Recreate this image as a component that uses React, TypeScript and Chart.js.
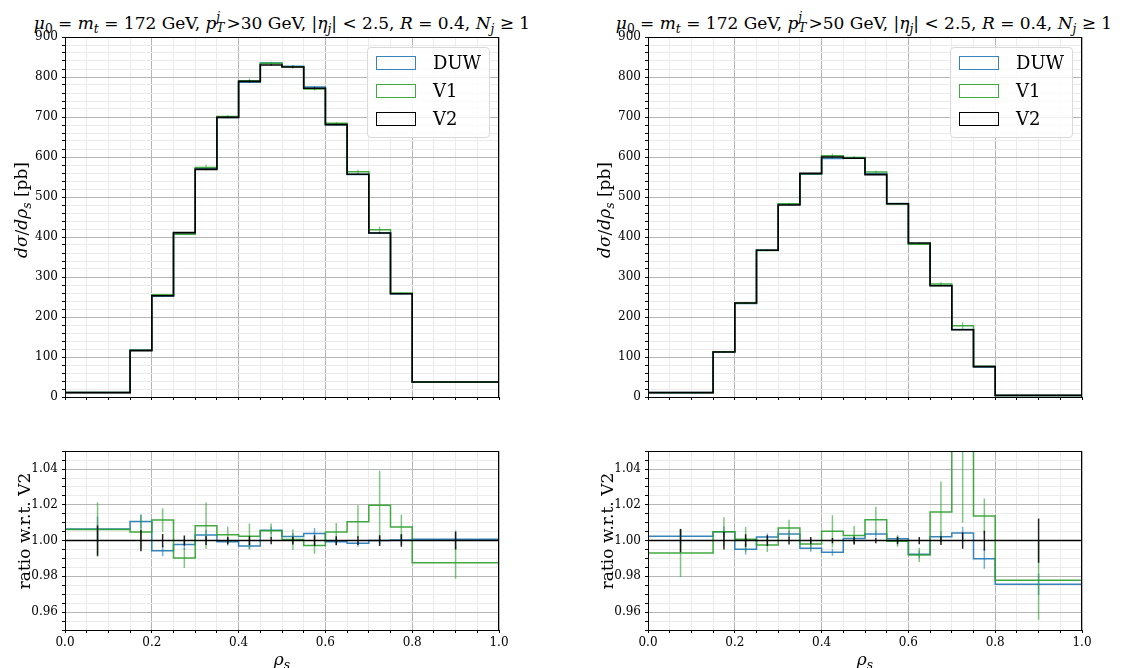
import React, { useEffect, useRef } from 'react';
import { Chart, registerables } from 'chart.js';
Chart.register(...registerables);

const FONT = "'DejaVu Serif', serif";

// ---------------- data ----------------
const binEdges = [0, 0.15, 0.2, 0.25, 0.3, 0.35, 0.4, 0.45, 0.5, 0.55, 0.6, 0.65, 0.7, 0.75, 0.8, 1.0];
const seriesNames = ['DUW', 'V1', 'V2'];

// pT^j > 30 GeV
const pt30_DUW = [11.1, 117.2, 251.6, 410.1, 570.8, 698.5, 786.6, 834.8, 827.0, 775.2, 680.5, 556.2, 410.0, 258.1, 37.5];
const pt30_V1 = [11.1, 116.6, 255.9, 407.0, 573.7, 701.3, 790.9, 834.6, 825.5, 769.8, 684.3, 562.9, 418.1, 260.0, 37.0];
const pt30_V2 = [11.0, 116.0, 253.0, 411.0, 569.0, 699.0, 789.0, 830.0, 825.0, 772.0, 681.0, 557.0, 410.0, 258.0, 37.5];
const pt30_ratioDUW = [1.0065, 1.0107, 0.9943, 0.9978, 1.0031, 0.9993, 0.997, 1.0058, 1.0023, 1.004, 0.9993, 0.9985, 1.0, 1.0004, 1.0007];
const pt30_ratioV1 = [1.0062, 1.0048, 1.0115, 0.9902, 1.0083, 1.0033, 1.0024, 1.0055, 1.0006, 0.9972, 1.0048, 1.0106, 1.0198, 1.0076, 0.9876];
const pt30_errDUW = [0.007, 0.004, 0.003, 0.003, 0.003, 0.002, 0.002, 0.002, 0.002, 0.003, 0.002, 0.002, 0.002, 0.003, 0.005];
const pt30_errV1 = [0.0153, 0.0094, 0.0066, 0.0055, 0.013, 0.0044, 0.0071, 0.004, 0.0058, 0.0045, 0.005, 0.0092, 0.0193, 0.0068, 0.009];
const pt30_errV2 = [0.0085, 0.006, 0.0037, 0.0028, 0.0025, 0.002, 0.0025, 0.002, 0.0022, 0.003, 0.0024, 0.0025, 0.003, 0.0035, 0.005];

// pT^j > 50 GeV
const pt50_DUW = [11.0, 113.1, 233.9, 367.7, 481.8, 556.6, 596.1, 597.7, 558.1, 483.5, 382.1, 278.6, 168.7, 75.2, 3.9];
const pt50_V1 = [10.9, 113.1, 235.2, 366.1, 483.4, 557.9, 603.1, 598.7, 562.5, 482.8, 381.9, 282.4, 178.1, 77.0, 3.9];
const pt50_V2 = [11.0, 112.5, 235.0, 367.0, 480.0, 559.0, 600.0, 597.0, 556.0, 483.0, 385.0, 278.0, 168.0, 76.0, 4.0];
const pt50_ratioDUW = [1.0024, 1.005, 0.9952, 1.002, 1.0037, 0.9957, 0.9935, 1.0012, 1.0037, 1.001, 0.9924, 1.0022, 1.0043, 0.9898, 0.9756];
const pt50_ratioV1 = [0.9931, 1.005, 1.0007, 0.9976, 1.007, 0.9981, 1.0052, 1.0028, 1.0117, 0.9996, 0.992, 1.016, 1.06, 1.0137, 0.9778];
const pt50_errDUW = [0.004, 0.003, 0.003, 0.002, 0.002, 0.002, 0.002, 0.002, 0.002, 0.002, 0.002, 0.003, 0.0035, 0.0055, 0.006];
const pt50_errV1 = [0.0135, 0.008, 0.0069, 0.004, 0.0047, 0.003, 0.009, 0.0053, 0.0072, 0.003, 0.004, 0.017, 0.05, 0.0098, 0.022];
const pt50_errV2 = [0.0065, 0.005, 0.0035, 0.003, 0.0022, 0.002, 0.0015, 0.002, 0.0015, 0.002, 0.002, 0.0025, 0.0045, 0.0055, 0.0124];

// ticks
const xMajorTicks = [0.0, 0.2, 0.4, 0.6, 0.8, 1.0];
const xMinorStep = 0.05;
const yMainTicks = [0, 100, 200, 300, 400, 500, 600, 700, 800, 900];
const yMainMinorStep = 20;
const yRatioTicks = [0.96, 0.98, 1.0, 1.02, 1.04];
const yRatioMinorStep = 0.005;

// ---------------- styles ----------------
const COL_DUW = 'rgba(31,119,180,0.9)';
const COL_V1 = 'rgba(44,160,44,0.9)';
const COL_V2 = '#000000';
const ERR_DUW = 'rgba(31,119,180,0.6)';
const ERR_V1 = 'rgba(44,160,44,0.6)';
const ERR_V2 = 'rgba(0,0,0,0.85)';

function tickRange(min: number, max: number, step: number) {
  const n = Math.round((max - min) / step);
  const out: number[] = [];
  for (let i = 0; i <= n; i++) out.push(+(min + i * step).toFixed(6));
  return out;
}
const isMajor = (v: number, majors: number[]) => majors.some((m) => Math.abs(m - v) < 1e-7);

function stepPoints(edges: number[], vals: number[]) {
  const pts: any[] = [{ x: edges[0], y: 0 }];
  vals.forEach((v, i) => {
    pts.push({ x: edges[i], y: v });
    pts.push({ x: edges[i + 1], y: v });
  });
  pts.push({ x: edges[edges.length - 1], y: 0 });
  return pts;
}
function errPoints(edges: number[], vals: number[], half: number[]) {
  const pts: any[] = [];
  vals.forEach((v, i) => {
    const c = (edges[i] + edges[i + 1]) / 2;
    pts.push({ x: c, y: v - half[i] });
    pts.push({ x: c, y: v + half[i] });
    pts.push({ x: c, y: null });
  });
  return pts;
}

const ds = (data: any[], color: string, width: number, order: number) => ({
  data,
  borderColor: color,
  backgroundColor: color,
  borderWidth: width,
  pointRadius: 0,
  pointHoverRadius: 0,
  fill: false,
  tension: 0,
  spanGaps: false,
  order,
});

const boxPlugin = {
  id: 'box',
  afterDraw(chart: any) {
    const { ctx, chartArea: a } = chart;
    ctx.save();
    ctx.strokeStyle = '#000';
    ctx.lineWidth = 1;
    ctx.strokeRect(Math.round(a.left) + 0.5, Math.round(a.top) + 0.5, Math.round(a.right - a.left) - 1, Math.round(a.bottom - a.top));
    ctx.restore();
  },
};

function xScale(showLabels: boolean, height: number) {
  const ticks = tickRange(0, 1, xMinorStep);
  return {
    type: 'linear',
    min: 0,
    max: 1,
    afterBuildTicks: (s: any) => {
      s.ticks = ticks.map((v) => ({ value: v }));
    },
    afterFit: (s: any) => {
      s.height = height;
    },
    ticks: {
      autoSkip: false,
      maxRotation: 0,
      minRotation: 0,
      padding: 3,
      color: '#000',
      font: { family: FONT, size: 12 },
      callback: (v: any) => (showLabels && isMajor(Number(v), xMajorTicks) ? Number(v).toFixed(1) : ''),
    },
    grid: {
      color: (c: any) => (c.tick && isMajor(c.tick.value, xMajorTicks) ? '#b5b5b5' : '#ebebeb'),
      lineWidth: 1,
      drawTicks: true,
      tickLength: 3,
      tickColor: '#000',
    },
    border: { display: false },
  };
}

function yScale(min: number, max: number, step: number, majors: number[], digits: number) {
  const ticks = tickRange(min, max, step);
  return {
    type: 'linear',
    min,
    max,
    afterBuildTicks: (s: any) => {
      s.ticks = ticks.map((v) => ({ value: v }));
    },
    afterFit: (s: any) => {
      s.width = 65;
    },
    ticks: {
      autoSkip: false,
      padding: 4,
      color: '#000',
      font: { family: FONT, size: 12 },
      callback: (v: any) => (isMajor(Number(v), majors) ? Number(v).toFixed(digits) : ''),
    },
    grid: {
      color: (c: any) => (c.tick && isMajor(c.tick.value, majors) ? '#b5b5b5' : '#ebebeb'),
      lineWidth: 1,
      drawTicks: true,
      tickLength: 3,
      tickColor: '#000',
    },
    border: { display: false },
  };
}

function mainConfig(duw: number[], v1: number[], v2: number[], eDuw: number[], eV1: number[], eV2: number[]) {
  const absErr = (vals: number[], rel: number[]) => vals.map((v, i) => v * rel[i]);
  return {
    type: 'line',
    data: {
      datasets: [
        ds(stepPoints(binEdges, duw), COL_DUW, 1.5, 6),
        ds(errPoints(binEdges, duw, absErr(duw, eDuw)), ERR_DUW, 1.2, 5),
        ds(stepPoints(binEdges, v1), COL_V1, 1.5, 4),
        ds(errPoints(binEdges, v1, absErr(v1, eV1)), ERR_V1, 1.2, 3),
        ds(stepPoints(binEdges, v2), COL_V2, 1.6, 2),
        ds(errPoints(binEdges, v2, absErr(v2, eV2)), ERR_V2, 1.2, 1),
      ],
    },
    options: {
      responsive: false,
      animation: false,
      devicePixelRatio: 1,
      parsing: true,
      layout: { padding: { left: 0, top: 17, right: 26, bottom: 0 } },
      plugins: { legend: { display: false }, tooltip: { enabled: false } },
      scales: {
        x: xScale(false, 13),
        y: yScale(0, 900, yMainMinorStep, yMainTicks, 0),
      },
    },
    plugins: [boxPlugin],
  };
}

function ratioConfig(rDuw: number[], rV1: number[], eDuw: number[], eV1: number[], eV2: number[]) {
  const ones = rDuw.map(() => 1);
  return {
    type: 'line',
    data: {
      datasets: [
        ds(stepPoints(binEdges, rDuw), COL_DUW, 1.5, 6),
        ds(errPoints(binEdges, rDuw, eDuw), ERR_DUW, 1.5, 5),
        ds(stepPoints(binEdges, rV1), COL_V1, 1.5, 4),
        ds(errPoints(binEdges, rV1, eV1), ERR_V1, 1.5, 3),
        ds(stepPoints(binEdges, ones), COL_V2, 1.5, 2),
        ds(errPoints(binEdges, ones, eV2), ERR_V2, 1.5, 1),
      ],
    },
    options: {
      responsive: false,
      animation: false,
      devicePixelRatio: 1,
      layout: { padding: { left: 0, top: 10, right: 26, bottom: 0 } },
      plugins: { legend: { display: false }, tooltip: { enabled: false } },
      scales: {
        x: xScale(true, 38),
        y: yScale(0.95, 1.05, yRatioMinorStep, yRatioTicks, 2),
      },
    },
    plugins: [boxPlugin],
  };
}

function Panel({ left, top, width, height, make }: any) {
  const ref = useRef<HTMLCanvasElement | null>(null);
  useEffect(() => {
    const chart = new Chart(ref.current as HTMLCanvasElement, make());
    return () => chart.destroy();
  }, []);
  return (
    <canvas
      ref={ref}
      width={width}
      height={height}
      style={{ position: 'absolute', left, top, width, height }}
    />
  );
}

const I = ({ children }: any) => <i>{children}</i>;
const Sub = ({ children }: any) => (
  <span style={{ fontSize: '0.72em', verticalAlign: '-0.3em', lineHeight: 0 }}>{children}</span>
);
const SubSup = ({ sub, sup }: any) => (
  <span style={{ display: 'inline-block', position: 'relative', width: '0.6em', height: 0 }}>
    <span style={{ position: 'absolute', left: 0, bottom: '0.5em', fontSize: '0.72em', lineHeight: 1 }}>{sup}</span>
    <span style={{ position: 'absolute', left: 0, top: '-0.55em', fontSize: '0.72em', lineHeight: 1 }}>{sub}</span>
  </span>
);

function Title({ cx, pt }: any) {
  return (
    <div
      style={{
        position: 'absolute',
        left: cx - 300,
        width: 600,
        top: 13,
        textAlign: 'center',
        fontFamily: FONT,
        fontSize: 17,
        lineHeight: '20px',
        whiteSpace: 'nowrap',
        color: '#000',
      }}
    >
      <I>μ</I>
      <Sub>0</Sub> = <I>m</I>
      <Sub>
        <I>t</I>
      </Sub>{' '}
      = 172 GeV, <I>p</I>
      <SubSup sub={<I>T</I>} sup={<I>j</I>} />
      &gt;{pt} GeV, |<I>η</I>
      <Sub>
        <I>j</I>
      </Sub>
      | &lt; 2.5, <I>R</I> = 0.4, <I>N</I>
      <Sub>
        <I>j</I>
      </Sub>{' '}
      ≥ 1
    </div>
  );
}

function YLabel({ cx, cy, children }: any) {
  return (
    <div
      style={{
        position: 'absolute',
        left: cx,
        top: cy,
        transform: 'translate(-50%, -50%) rotate(-90deg)',
        fontFamily: FONT,
        fontSize: 17,
        whiteSpace: 'nowrap',
        color: '#000',
        lineHeight: '20px',
      }}
    >
      {children}
    </div>
  );
}

function XLabel({ cx, cy }: any) {
  return (
    <div
      style={{
        position: 'absolute',
        left: cx,
        top: cy,
        transform: 'translate(-50%, -50%)',
        fontFamily: FONT,
        fontSize: 17,
        whiteSpace: 'nowrap',
        color: '#000',
        lineHeight: '20px',
      }}
    >
      <I>ρ</I>
      <Sub>
        <I>s</I>
      </Sub>
    </div>
  );
}

const legendColors = [COL_DUW, COL_V1, COL_V2];
function Legend({ left, top }: any) {
  return (
    <div
      style={{
        position: 'absolute',
        left,
        top,
        width: 121,
        height: 89,
        border: '1px solid #d9d9d9',
        borderRadius: 4,
        background: 'rgba(255,255,255,0.85)',
        zIndex: 2,
        fontFamily: FONT,
        fontSize: 18,
        color: '#000',
      }}
    >
      {seriesNames.map((n, i) => (
        <div key={n} style={{ position: 'absolute', left: 0, top: 8 + i * 28, height: 15, width: 121 }}>
          <div
            style={{
              position: 'absolute',
              left: 8,
              top: 0,
              width: 38,
              height: 12,
              border: `1.5px solid ${legendColors[i]}`,
            }}
          />
          <div style={{ position: 'absolute', left: 65, top: -4, lineHeight: '22px' }}>{n}</div>
        </div>
      ))}
    </div>
  );
}

const mainYLabel = (
  <>
    <I>dσ</I>/<I>dρ</I>
    <Sub>
      <I>s</I>
    </Sub>{' '}
    [pb]
  </>
);

export default function App() {
  return (
    <div
      style={{
        position: 'fixed',
        left: 0,
        top: 0,
        width: 1123,
        height: 668,
        background: '#fff',
        overflow: 'hidden',
      }}
    >
      <Title cx={282} pt={30} />
      <Title cx={864} pt={50} />
      <Panel left={0} top={20} width={525} height={390} make={() => mainConfig(pt30_DUW, pt30_V1, pt30_V2, pt30_errDUW, pt30_errV1, pt30_errV2)} />
      <Panel left={583} top={20} width={525} height={390} make={() => mainConfig(pt50_DUW, pt50_V1, pt50_V2, pt50_errDUW, pt50_errV1, pt50_errV2)} />
      <Panel left={0} top={440} width={525} height={228} make={() => ratioConfig(pt30_ratioDUW, pt30_ratioV1, pt30_errDUW, pt30_errV1, pt30_errV2)} />
      <Panel left={583} top={440} width={525} height={228} make={() => ratioConfig(pt50_ratioDUW, pt50_ratioV1, pt50_errDUW, pt50_errV1, pt50_errV2)} />
      <YLabel cx={21} cy={210}>{mainYLabel}</YLabel>
      <YLabel cx={604} cy={210}>{mainYLabel}</YLabel>
      <YLabel cx={24} cy={531}>ratio w.r.t. V2</YLabel>
      <YLabel cx={607} cy={531}>ratio w.r.t. V2</YLabel>
      <XLabel cx={282} cy={659} />
      <XLabel cx={865} cy={659} />
      <Legend left={367} top={47} />
      <Legend left={950} top={47} />
    </div>
  );
}
